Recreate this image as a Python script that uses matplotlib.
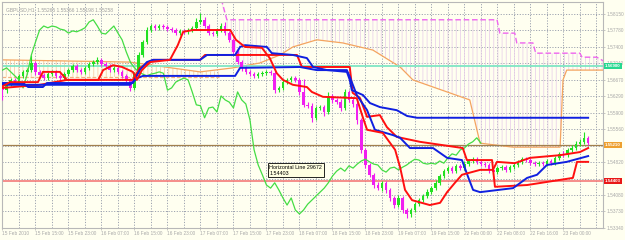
import matplotlib
matplotlib.use('Agg')
import matplotlib.pyplot as plt
from matplotlib.patches import Polygon
import matplotlib.transforms as mtransforms

# ---------------- data ----------------
closes = [1.5644, 1.5658, 1.5667, 1.5662, 1.5676, 1.5685, 1.5689, 1.5705, 1.5685, 1.5678,
          1.5671, 1.5680, 1.5685, 1.5676, 1.5671, 1.5680, 1.5689, 1.5698, 1.5689, 1.5685,
          1.5694, 1.5703, 1.5707, 1.5712, 1.5703, 1.5698, 1.5689, 1.5694, 1.5685, 1.5676,
          1.5667, 1.5649, 1.5680, 1.5723, 1.5752, 1.5779, 1.5788, 1.5784, 1.5788, 1.5786,
          1.5781, 1.5779, 1.5772, 1.5777, 1.5775, 1.5779, 1.5784, 1.5797, 1.5802, 1.5788,
          1.5772, 1.5770, 1.5779, 1.5788, 1.5772, 1.5757, 1.5730, 1.5707, 1.5694, 1.5685,
          1.5680, 1.5676, 1.5680, 1.5682, 1.5685, 1.5682, 1.5644, 1.5649, 1.5662, 1.5667,
          1.5671, 1.5667, 1.5640, 1.5611, 1.5609, 1.5582, 1.5604, 1.5606, 1.5595, 1.5631,
          1.5622, 1.5617, 1.5604, 1.5640, 1.5622, 1.5613, 1.5577, 1.5510, 1.5476, 1.5454,
          1.5431, 1.5424, 1.5436, 1.5420, 1.5402, 1.5386, 1.5402, 1.5375, 1.5366, 1.5375,
          1.5388, 1.5397, 1.5406, 1.5415, 1.5424, 1.5436, 1.5451, 1.5462, 1.5469, 1.5462,
          1.5474, 1.5469, 1.5478, 1.5485, 1.5489, 1.5483, 1.5478, 1.5476, 1.5465, 1.5460,
          1.5469, 1.5471, 1.5465, 1.5471, 1.5476, 1.5483, 1.5489, 1.5487, 1.5480, 1.5478,
          1.5480, 1.5478, 1.5485, 1.5480, 1.5492, 1.5501, 1.5498, 1.5510, 1.5514, 1.5523,
          1.5528, 1.5537, 1.5525]
first_open = 1.5651

up_wick_pips = [4, 4, 5, 4, 4, 5, 4, 18, 4, 4,
                4, 5, 4, 4, 5, 4, 5, 4, 4, 4,
                5, 4, 5, 6, 4, 4, 5, 4, 4, 4,
                4, 4, 5, 6, 5, 6, 5, 4, 5, 4,
                4, 5, 4, 4, 4, 5, 5, 9, 16, 6,
                4, 4, 5, 6, 8, 5, 5, 4, 4, 4,
                4, 4, 5, 4, 5, 4, 6, 5, 4, 4,
                5, 4, 5, 30, 6, 6, 5, 5, 4, 9,
                5, 5, 6, 7, 5, 5, 4, 5, 5, 5,
                5, 6, 5, 5, 5, 5, 6, 5, 4, 5,
                5, 5, 5, 6, 5, 6, 5, 6, 5, 4,
                5, 4, 6, 5, 5, 5, 4, 5, 4, 5,
                5, 4, 4, 5, 5, 5, 5, 4, 5, 4,
                4, 5, 5, 4, 5, 5, 6, 5, 6, 7,
                6, 13, 4]
low_wick_pips = [22, 6, 4, 4, 4, 5, 4, 5, 6, 5,
                 5, 4, 4, 5, 4, 5, 4, 4, 5, 4,
                 4, 5, 4, 4, 5, 4, 5, 4, 5, 5,
                 5, 6, 5, 4, 5, 4, 4, 5, 4, 4,
                 5, 4, 5, 4, 5, 4, 4, 4, 5, 5,
                 5, 4, 4, 4, 5, 5, 5, 5, 6, 4,
                 4, 5, 4, 4, 4, 5, 6, 5, 4, 4,
                 5, 5, 6, 5, 6, 10, 6, 5, 8, 5,
                 6, 5, 6, 5, 5, 6, 8, 6, 7, 6,
                 6, 5, 6, 6, 7, 6, 5, 7, 9, 6,
                 5, 5, 5, 4, 5, 5, 4, 5, 5, 5,
                 4, 5, 4, 5, 4, 5, 5, 5, 6, 5,
                 5, 4, 5, 5, 4, 5, 4, 5, 5, 4,
                 5, 4, 5, 5, 4, 5, 5, 4, 5, 5,
                 4, 5, 4]

chikou_shift = 26

# line breakpoints: (bar index, price)
tenkan_bars = [0.1, 1.8, 8.6, 9.8, 13.9, 15.6, 23.2, 24.4, 26.8, 29.0, 31.6, 32.6, 33.8, 35.8,
               40.6, 42.5, 43.8, 46.2, 55.2, 56.6, 58.8, 62.9, 64.8, 66.5, 68.0, 70.4, 73.8,
               75.0, 77.7, 85.9, 87.4, 88.4, 92.2, 95.2, 96.4, 97.6, 99.3, 103.6, 106.1, 107.8,
               109.7, 111.4, 115.8, 118.9, 119.9, 124.2, 127.9, 135.2, 140.0, 142.0]
tenkan_vals = [1.5653, 1.5662, 1.5662, 1.5685, 1.5685, 1.5667, 1.5667, 1.5689, 1.5700, 1.5696,
               1.5685, 1.5667, 1.5689, 1.5707, 1.5712, 1.5745, 1.5775, 1.5779, 1.5779, 1.5757,
               1.5741, 1.5739, 1.5716, 1.5682, 1.5667, 1.5656, 1.5651, 1.5640, 1.5629, 1.5626,
               1.5582, 1.5555, 1.5548, 1.5510, 1.5471, 1.5420, 1.5397, 1.5386, 1.5391, 1.5415,
               1.5436, 1.5454, 1.5465, 1.5465, 1.5483, 1.5480, 1.5492, 1.5498, 1.5505, 1.5514]

red2_bars = [0.1, 9.1, 15.6, 31.6, 33.3, 36.5, 47.9, 49.1, 71.4, 72.6, 84.2, 84.9, 86.7, 88.4,
             91.5, 93.2, 95.6, 101.2, 111.6, 112.6, 118.7, 119.4, 127.2, 138.3, 139.3, 142.0]
red2_vals = [1.5649, 1.5656, 1.5667, 1.5667, 1.5694, 1.5712, 1.5712, 1.5723, 1.5723, 1.5696,
             1.5696, 1.5638, 1.5626, 1.5584, 1.5588, 1.5561, 1.5539, 1.5528, 1.5514, 1.5487,
             1.5487, 1.5427, 1.5431, 1.5447, 1.5483, 1.5483]

kijun_bars = [0.1, 5.0, 6.2, 9.8, 10.8, 31.6, 33.3, 35.0, 36.5, 47.9, 49.6, 56.4, 57.6, 58.8,
              64.1, 65.3, 70.4, 73.8, 75.3, 78.7, 83.5, 84.2, 84.7, 87.4, 89.1, 91.5, 95.6,
              98.1, 100.5, 142.0]
kijun_vals = [1.5660, 1.5660, 1.5651, 1.5651, 1.5660, 1.5660, 1.5689, 1.5707, 1.5712, 1.5712,
              1.5723, 1.5723, 1.5741, 1.5745, 1.5741, 1.5727, 1.5723, 1.5716, 1.5696, 1.5689,
              1.5685, 1.5667, 1.5644, 1.5633, 1.5615, 1.5606, 1.5599, 1.5586, 1.5582, 1.5582]

blue2_bars = [0.1, 30.9, 32.6, 34.1, 56.4, 57.6, 72.1, 76.2, 83.5, 84.2, 85.9, 88.4, 90.3,
              94.7, 96.4, 98.8, 104.4, 107.8, 111.4, 112.9, 114.1, 115.8, 123.8, 127.2, 129.6,
              132.0, 136.8, 142.0]
blue2_vals = [1.5656, 1.5656, 1.5671, 1.5676, 1.5676, 1.5694, 1.5696, 1.5689, 1.5689, 1.5674,
              1.5633, 1.5599, 1.5555, 1.5543, 1.5537, 1.5514, 1.5514, 1.5492, 1.5487, 1.5449,
              1.5420, 1.5415, 1.5424, 1.5447, 1.5454, 1.5476, 1.5483, 1.5496]

spanA_bars = [-0.2, 30.9, 47.9, 55.9, 62.4, 67.3, 70.4, 76.2, 82.5, 89.8, 96.4, 99.5, 113.3,
              115.8, 123.8, 135.2, 135.9, 136.8, 145.8]
spanA_vals = [1.5712, 1.5707, 1.5685, 1.5694, 1.5705, 1.5723, 1.5741, 1.5757, 1.5750, 1.5734,
              1.5696, 1.5667, 1.5622, 1.5525, 1.5516, 1.5516, 1.5667, 1.5689, 1.5689]

spanB_left_bars = [-0.2, 52.5]
spanB_left_vals = [1.5674, 1.5674]
spanB_bars = [53.0, 54.4, 119.9, 120.6, 124.2, 124.7, 128.6, 129.3, 140.0, 140.5, 144.1, 145.8]
spanB_vals = [1.5850, 1.5802, 1.5802, 1.5772, 1.5772, 1.5750, 1.5750, 1.5727, 1.5727, 1.5718,
              1.5718, 1.5709]

hline_prices = [1.5698, 1.5521, 1.54403]
hline_labels = ["1.56980", "1.55210", "1.54403"]

tick_values = [1.58150 - 0.003695 * k for k in range(14)]
# labels under the coloured price boxes are hidden in the original
tick_labels = ["1.58150", "1.57780", "1.57400", "1.57040", "1.56670", "1.56290", "1.55900",
               "1.55560", "", "1.54820", "", "1.54080", "1.53730", "1.53340"]

date_labels = ["15 Feb 2010", "15 Feb 15:00", "15 Feb 23:00", "16 Feb 07:00", "16 Feb 15:00",
               "16 Feb 23:00", "17 Feb 07:00", "17 Feb 15:00", "17 Feb 23:00", "18 Feb 07:00",
               "18 Feb 15:00", "18 Feb 23:00", "19 Feb 07:00", "19 Feb 15:00", "22 Feb 00:00",
               "22 Feb 08:00", "22 Feb 16:00", "23 Feb 00:00"]

header = "GBPUSD,H1  1.55265 1.55366 1.55198 1.55258"
note_text = "Horizontal Line 29672\n1.54403"

# ---------------- figure ----------------
BG = '#fffff0'
FONT = ['Liberation Sans', 'DejaVu Sans']
plt.rcParams['font.family'] = FONT
plt.rcParams['hatch.linewidth'] = 0.6
fig = plt.figure(figsize=(6.25, 2.4), dpi=100, facecolor=BG)
ax = fig.add_axes([2 / 625, 12 / 240, 601 / 625, 226 / 240])
ax.set_facecolor(BG)
ax.set_xlim(-0.12, 145.6)
ax.set_ylim(1.53345, 1.58419)

# grid
gcol = '#9da3b0'
for k in range(0, 146, 4):
    ax.axvline(k, color=gcol, lw=0.7, ls=(0, (1.2, 1.6)), zorder=0)
for v in tick_values:
    ax.axhline(v, color=gcol, lw=0.7, ls=(0, (1.2, 1.6)), zorder=0)

# clouds (hatched)
left_poly = [(b, v) for b, v in zip(spanA_bars, spanA_vals) if b <= 52.5]
left_poly += [(52.5, 1.5686)] + list(zip(spanB_left_bars, spanB_left_vals))[::-1]
ax.add_patch(Polygon(left_poly, closed=True, facecolor='none', edgecolor='#f6cfa8',
                     hatch='||||', lw=0, zorder=1))
right_poly = list(zip(spanB_bars, spanB_vals))
right_poly += [(b, v) for b, v in zip(spanA_bars, spanA_vals) if b >= 55][::-1]
ax.add_patch(Polygon(right_poly, closed=True, facecolor='none', edgecolor='#ead2ea',
                     hatch='||||', lw=0, zorder=1))
ax.plot(spanA_bars, spanA_vals, color='#f4a460', lw=0.9, zorder=2)
ax.plot(spanB_left_bars, spanB_left_vals, color='#f4b080', lw=0.9, ls=(0, (3, 1.5)), zorder=2)
ax.plot(spanB_bars, spanB_vals, color='#ee66ee', lw=1.0, ls=(0, (4, 2)), zorder=2)

# horizontal lines
ax.axhline(hline_prices[0], color='#7fe6c4', lw=1.3, zorder=2)
ax.axhline(hline_prices[1], color='#a2804e', lw=0.9, zorder=2)
ax.axhline(hline_prices[2], color='#f47a7a', lw=1.2, zorder=2)

# candles
opens = [first_open] + closes[:-1]
for i, (o, c) in enumerate(zip(opens, closes)):
    up = c >= o
    col = '#22e022' if up else '#f020f0'
    top, bot = max(o, c), min(o, c)
    hi = top + up_wick_pips[i] * 0.0001
    lo = bot - low_wick_pips[i] * 0.0001
    ax.plot([i, i], [lo, hi], color=col, lw=0.8, zorder=3, solid_capstyle='butt')
    h = max(top - bot, 0.00012)
    ax.bar(i, h, bottom=bot, width=0.62, color=col, linewidth=0, zorder=3)

# chikou span (closes shifted back)
ax.plot(range(len(closes) - chikou_shift), closes[chikou_shift:], color='#44dd44', lw=0.9, zorder=4)

# tenkan / kijun style lines
ax.plot(red2_bars, red2_vals, color='#ff1010', lw=1.4, zorder=5)
ax.plot(blue2_bars, blue2_vals, color='#1020e0', lw=1.4, zorder=5)
ax.plot(kijun_bars, kijun_vals, color='#1020e0', lw=1.4, zorder=5)
ax.plot(tenkan_bars, tenkan_vals, color='#ff1010', lw=1.4, zorder=5)

# axes style
for s in ax.spines.values():
    s.set_color('#b8b8b8')
    s.set_linewidth(0.8)
ax.yaxis.tick_right()
ax.set_yticks(tick_values)
ax.set_yticklabels(tick_labels)
ax.set_xticks(range(0, 137, 8))
ax.set_xticklabels(date_labels)
for lab in ax.get_xticklabels():
    lab.set_horizontalalignment('left')
ax.tick_params(axis='both', colors='#b0b0b0', labelcolor='#a8a8a8', labelsize=3.4,
               length=1.5, width=0.5, pad=0.8)

# price labels for horizontal lines
tr = mtransforms.blended_transform_factory(ax.transAxes, ax.transData)
for p, lab, fc in zip(hline_prices, hline_labels, ['#26d890', '#eea030', '#e81818']):
    ax.text(1.0035, p, lab, transform=tr, fontsize=3.2, color='white', va='center', ha='left',
            fontweight='bold', zorder=10,
            bbox=dict(boxstyle='square,pad=0.2', facecolor=fc, edgecolor='none'))

# header and note
ax.text(0.006, 0.975, header, transform=ax.transAxes, fontsize=3.6, color='#a0a0a0',
        va='top', ha='left', zorder=10)
ax.text(64.7, 1.5464, note_text, fontsize=3.9, color='black', va='center', ha='left',
        linespacing=1.2, zorder=10,
        bbox=dict(boxstyle='square,pad=0.3', facecolor='#ffffe1', edgecolor='black', lw=0.6))

fig.savefig('out.png', dpi=100, facecolor=BG)
